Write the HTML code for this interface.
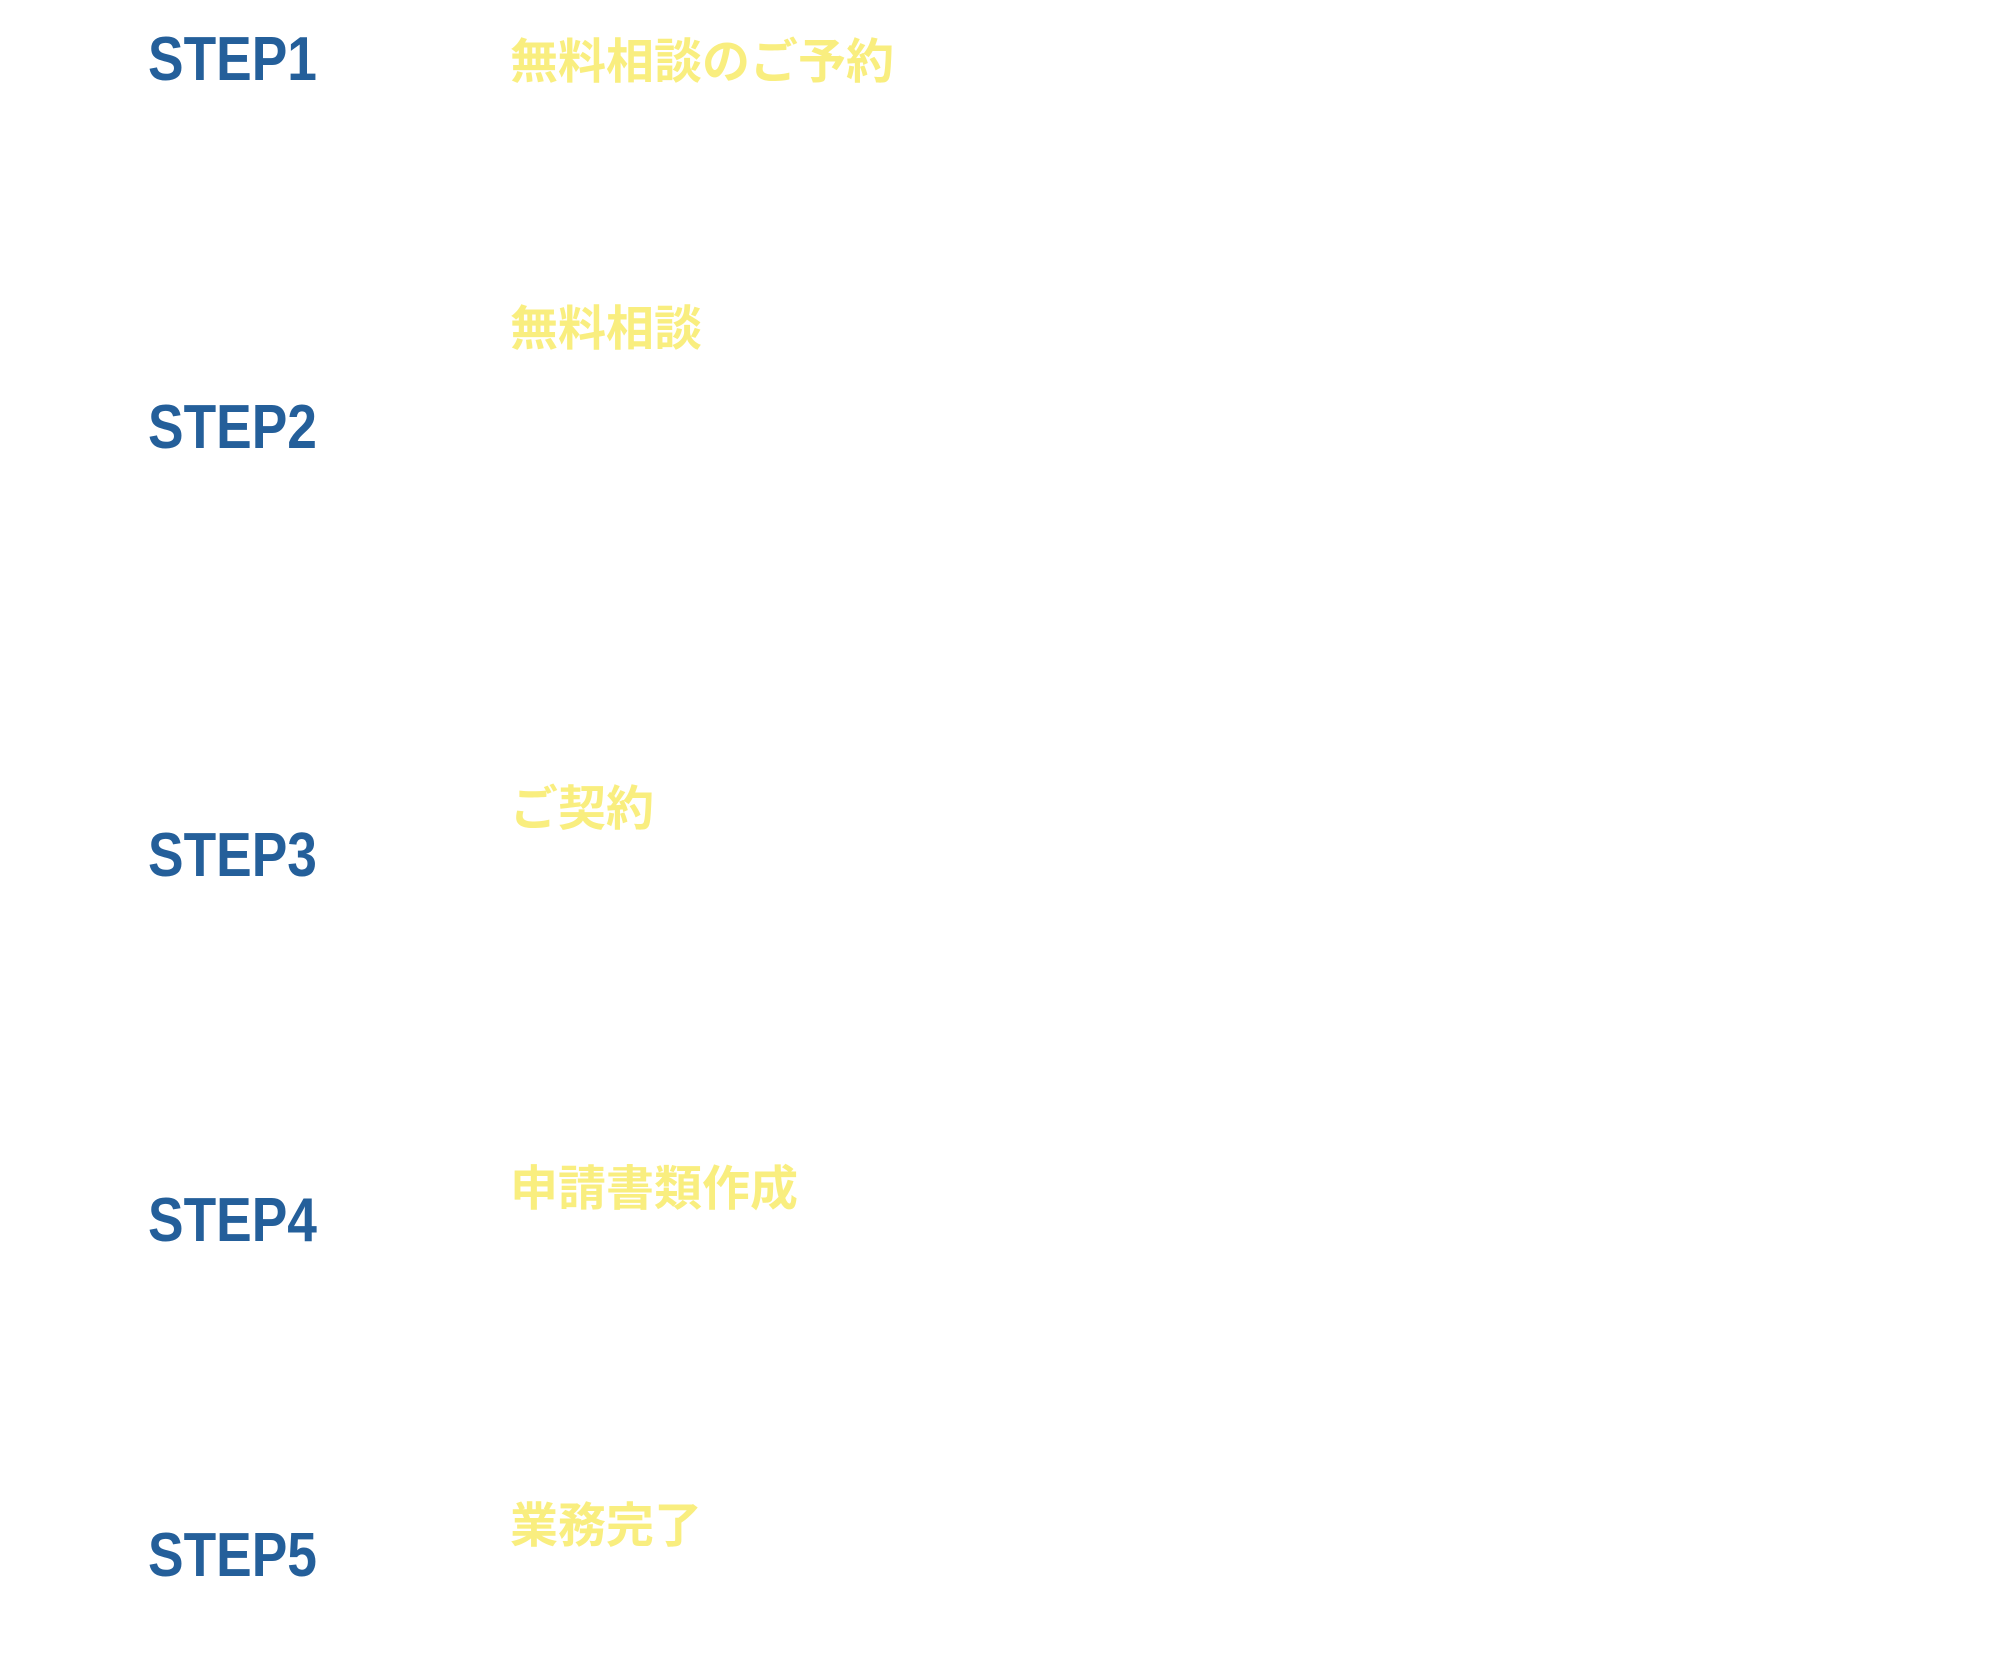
<!DOCTYPE html>
<html><head><meta charset="utf-8"><style>
html,body{margin:0;padding:0;background:#fff;}
body{width:2000px;height:1656px;position:relative;overflow:hidden;}
.s{position:absolute;left:148px;font-family:"Liberation Sans",sans-serif;font-weight:bold;font-size:62px;line-height:1;color:#245f9a;transform:scaleX(0.86);transform-origin:left top;white-space:nowrap;}
.j{position:absolute;left:510px;font-family:"Liberation Sans","Noto Sans CJK JP",sans-serif;font-weight:bold;font-size:48px;line-height:1;color:#f9ee7f;white-space:nowrap;}
</style></head><body>
<div class="s" style="top:29px">STEP1</div>
<div class="j" style="top:39px">無料相談のご予約</div>
<div class="j" style="top:306px">無料相談</div>
<div class="s" style="top:397px">STEP2</div>
<div class="j" style="top:786px">ご契約</div>
<div class="s" style="top:825px">STEP3</div>
<div class="j" style="top:1166px">申請書類作成</div>
<div class="s" style="top:1190px">STEP4</div>
<div class="j" style="top:1503px">業務完了</div>
<div class="s" style="top:1525px">STEP5</div>
</body></html>
